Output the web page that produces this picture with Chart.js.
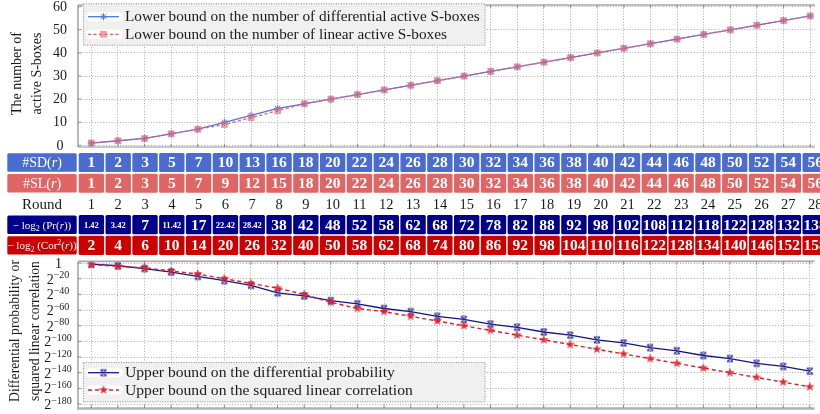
<!DOCTYPE html>
<html><head><meta charset="utf-8">
<script src="https://cdn.jsdelivr.net/npm/chart.js@4.4.1/dist/chart.umd.min.js"></script>
<style>
html,body{margin:0;padding:0;background:#fff;overflow:hidden;width:820px;height:414px;position:relative}
canvas{position:absolute;left:0;display:block}
</style></head><body>
<canvas id="cTop" width="820" height="152" style="top:0"></canvas>
<canvas id="cTbl" width="820" height="108" style="top:150px"></canvas>
<canvas id="cBot" width="820" height="158" style="top:256px"></canvas>
<script>
// ---------- data ----------
const rounds      = [1,2,3,4,5,6,7,8,9,10,11,12,13,14,15,16,17,18,19,20,21,22,23,24,25,26,27,28];
const activeSD    = [1,2,3,5,7,10,13,16,18,20,22,24,26,28,30,32,34,36,38,40,42,44,46,48,50,52,54,56];
const activeSL    = [1,2,3,5,7,9,12,15,18,20,22,24,26,28,30,32,34,36,38,40,42,44,46,48,50,52,54,56];
const negLog2Pr   = [1.42,3.42,7,11.42,17,22.42,28.42,38,42,48,52,58,62,68,72,78,82,88,92,98,102,108,112,118,122,128,132,138];
const negLog2Cor  = [2,4,6,10,14,20,26,32,40,50,58,62,68,74,80,86,92,98,104,110,116,122,128,134,140,146,152,158];
const topTicks    = [0,10,20,30,40,50,60];
const botTickExps = [0,-20,-40,-60,-80,-100,-120,-140,-160,-180];
const labelSD  = 'Lower bound on the number of differential active S-boxes';
const labelSL  = 'Lower bound on the number of linear active S-boxes';
const labelPr  = 'Upper bound on the differential probability';
const labelCor = 'Upper bound on the squared linear correlation';

// ---------- style helpers ----------
const SERIF = '"Liberation Serif","DejaVu Serif",serif';
const font = (s, w='normal', st='normal') => `${st} ${w} ${s}px ${SERIF}`;
const C = { sd:'#4a6bd0', sl:'#e06666', pr:'#00008b', cor:'#cc0000',
            topSD:'#5274e0', topSL:'#e2606c', botPr:'#14148a', botCor:'#e01e28',
            grid:'#a9a9a9', frame:'#a8a8a8' };

function line(ctx,x1,y1,x2,y2){ctx.beginPath();ctx.moveTo(x1,y1);ctx.lineTo(x2,y2);ctx.stroke();}
function fitSize(ctx,text,target,w='normal'){ctx.font=font(100,w);return 100*target/ctx.measureText(text).width;}
function drawRich(ctx,parts,cx,base,color){
  let w=0; parts.forEach(p=>{ctx.font=p.f;p.w=ctx.measureText(p.t).width;w+=p.w;});
  let x=cx-w/2; ctx.fillStyle=color; ctx.textBaseline='alphabetic'; ctx.textAlign='left';
  parts.forEach(p=>{ctx.font=p.f;ctx.fillText(p.t,x,base+(p.dy||0));x+=p.w;});
}
function markerCanvas(size,draw){const c=document.createElement('canvas');c.width=c.height=size;draw(c.getContext('2d'),size/2);return c;}
const starImg = markerCanvas(12,(g,m)=>{g.beginPath();for(let i=0;i<10;i++){const a=-Math.PI/2+i*Math.PI/5,r=i%2?2.1:5;g.lineTo(m+r*Math.cos(a),m+r*Math.sin(a));}g.closePath();g.fillStyle='rgba(226,30,40,0.85)';g.fill();});
const xImg = markerCanvas(10,(g,m)=>{g.strokeStyle='#2a2a9a';g.lineWidth=1.1;g.beginPath();
  g.moveTo(m-3,m-3);g.lineTo(m+3,m+3);g.moveTo(m+3,m-3);g.lineTo(m-3,m+3);
  g.moveTo(m-3,m-3);g.lineTo(m+3,m-3);g.moveTo(m-3,m+3);g.lineTo(m+3,m+3);g.stroke();});

function drawMarker(ctx,ds,cx,cy){
  const st=ds.pointStyle;
  if(st instanceof HTMLCanvasElement){ctx.drawImage(st,cx-st.width/2,cy-st.height/2);return;}
  if(st==='rect'){const s=Math.SQRT1_2*ds.pointRadius;ctx.fillStyle=ds.pointBackgroundColor;ctx.fillRect(cx-s,cy-s,2*s,2*s);return;}
  if(st==='star'){const r=ds.pointRadius;ctx.strokeStyle=ds.pointBorderColor;ctx.lineWidth=ds.pointBorderWidth||1;ctx.setLineDash([]);
    line(ctx,cx-r,cy,cx+r,cy);line(ctx,cx,cy-r,cx,cy+r);const d=r*Math.SQRT1_2;line(ctx,cx-d,cy-d,cx+d,cy+d);line(ctx,cx-d,cy+d,cx+d,cy-d);}
}
function drawLegend(ctx,box,rows,fs){
  ctx.save();
  ctx.fillStyle='#f0f0f0';ctx.fillRect(box.x,box.y,box.w,box.h);
  ctx.strokeStyle='#7a7a7a';ctx.lineWidth=0.8;ctx.setLineDash([1,1.5]);ctx.strokeRect(box.x+0.5,box.y+0.5,box.w-1,box.h-1);
  rows.forEach(({ds,y})=>{
    ctx.setLineDash([]);ctx.fillStyle='#ffffff';
    ctx.beginPath();ctx.roundRect(box.x+3,y-4.5,37,9,4.5);ctx.fill();
    ctx.strokeStyle=ds.borderColor;ctx.lineWidth=ds.borderWidth;ctx.setLineDash(ds.borderDash||[]);
    line(ctx,box.x+5,y,box.x+36,y);ctx.setLineDash([]);
    drawMarker(ctx,ds,box.x+20.5,y);
    ctx.fillStyle='#1a1a1a';ctx.font=font(fs);ctx.textBaseline='middle';ctx.textAlign='left';
    ctx.fillText(ds.label,box.x+42,y+0.5);
  });
  ctx.restore();
}
function drawYTitle(ctx,lines,xs,cy,fs){
  ctx.save();ctx.fillStyle='#1a1a1a';ctx.font=font(fs);ctx.textAlign='center';ctx.textBaseline='middle';
  lines.forEach((t,i)=>{ctx.save();ctx.translate(xs[i],cy);ctx.rotate(-Math.PI/2);ctx.fillText(t,0,0);ctx.restore();});
  ctx.restore();
}
const gridOpts = {color:C.grid,lineWidth:1,drawTicks:false};
const borderOpts = {display:false,dash:[1,1.8]};
const xScale = extra => Object.assign({type:'linear',min:0.5,max:28.18,offset:false,
  afterFit:s=>{s.height=0;},ticks:{display:false},
  afterBuildTicks:s=>{s.ticks=rounds.map(v=>({value:v}));},
  grid:gridOpts,border:borderOpts},extra||{});
const commonPlugins = {legend:{display:false},tooltip:{enabled:false}};

// ---------- top chart ----------
new Chart(document.getElementById('cTop'),{
  type:'line',
  data:{datasets:[
    {label:labelSD,data:rounds.map((r,i)=>({x:r,y:activeSD[i]})),borderColor:C.topSD,borderWidth:1.3,
     pointStyle:'star',pointRadius:3.6,pointBorderColor:C.topSD,pointBorderWidth:1,pointBackgroundColor:C.topSD,order:1},
    {label:labelSL,data:rounds.map((r,i)=>({x:r,y:activeSL[i]})),borderColor:C.topSL,borderWidth:1.3,borderDash:[3,2.5],
     pointStyle:'rect',pointRadius:4.8,pointBackgroundColor:'rgba(226,104,116,0.62)',pointBorderWidth:0,pointBorderColor:'rgba(0,0,0,0)',order:0}
  ]},
  options:{responsive:false,animation:false,layout:{padding:{top:1.5,bottom:2,left:0,right:0}},
    plugins:commonPlugins,
    scales:{x:xScale(),
      y:{type:'linear',min:-0.7,max:60.74,afterFit:s=>{s.width=78;},ticks:{display:false},
         afterBuildTicks:s=>{s.ticks=topTicks.map(v=>({value:v}));},grid:gridOpts,border:borderOpts}}},
  plugins:[{id:'topDecor',afterDraw(chart){
    const {ctx,chartArea:a,scales:{x,y}}=chart; ctx.save(); ctx.setLineDash([]);
    ctx.strokeStyle=C.frame;ctx.lineWidth=1.6;line(ctx,a.left,a.top,a.right,a.top);line(ctx,a.left,a.top,a.left,a.bottom);
    ctx.strokeStyle='#909090';ctx.lineWidth=1;line(ctx,a.left,a.bottom,a.right,a.bottom);
    ctx.strokeStyle='#7a7a7a';ctx.lineWidth=0.8;
    rounds.forEach(r=>{const p=x.getPixelForValue(r);line(ctx,p,a.bottom,p,a.bottom-3);line(ctx,p,a.top,p,a.top+3);});
    topTicks.forEach(v=>{const p=y.getPixelForValue(v);line(ctx,a.left,p,a.left+3,p);});
    ctx.fillStyle='#1a1a1a';ctx.font=font(14);ctx.textAlign='center';ctx.textBaseline='middle';
    topTicks.forEach(v=>ctx.fillText(String(v),60,y.getPixelForValue(v)+0.5));
    const tfs=fitSize(ctx,'The number of',83);
    drawYTitle(ctx,['The number of','active S-boxes'],[17,37],73.5,tfs);
    const lfs=fitSize(ctx,labelSD,355);
    const ds=chart.data.datasets;
    drawLegend(ctx,{x:83,y:3.3,w:402.5,h:42.4},[{ds:ds[0],y:16.7},{ds:ds[1],y:34.3}],lfs);
    ctx.restore();
  }}]
});

// ---------- table ----------
const rowDefs = [
  {vals:activeSD,color:C.sd,row:0},
  {vals:activeSL,color:C.sl,row:1},
  {vals:negLog2Pr,color:C.pr,row:3},
  {vals:negLog2Cor,color:C.cor,row:4}
];
const rowLabels = [
  {row:0,color:C.sd,parts:[{t:'#SD(',f:font(14)},{t:'r',f:font(14,'normal','italic')},{t:')',f:font(14)}]},
  {row:1,color:C.sl,parts:[{t:'#SL(',f:font(14)},{t:'r',f:font(14,'normal','italic')},{t:')',f:font(14)}]},
  {row:3,color:C.pr,parts:[{t:'− log',f:font(11)},{t:'2',f:font(8),dy:2.5},{t:' (Pr(',f:font(11)},{t:'r',f:font(11,'normal','italic')},{t:'))',f:font(11)}]},
  {row:4,color:C.cor,parts:[{t:'− log',f:font(11)},{t:'2',f:font(8),dy:2.5},{t:' (Cor',f:font(11)},{t:'2',f:font(8),dy:-4},{t:'(',f:font(11)},{t:'r',f:font(11,'normal','italic')},{t:'))',f:font(11)}]}
];
new Chart(document.getElementById('cTbl'),{
  type:'bar',
  data:{datasets:rowDefs.map(d=>({label:'row'+d.row,vals:d.vals,
    data:rounds.map(r=>({x:r,y:[d.row-0.445,d.row+0.445]})),
    backgroundColor:d.color,borderWidth:0,borderRadius:1.5,barThickness:24.7,grouped:false,borderSkipped:false}))},
  options:{responsive:false,animation:false,layout:{padding:0},plugins:commonPlugins,
    scales:{x:xScale({grid:{display:false}}),
      y:{type:'linear',min:-0.603,max:4.609,reverse:true,afterFit:s=>{s.width=78;},ticks:{display:false},grid:{display:false},border:{display:false}}}},
  plugins:[{id:'cells',afterDatasetsDraw(chart){
    const {ctx,scales:{x,y}}=chart; ctx.save();
    chart.data.datasets.forEach((ds,di)=>{
      const meta=chart.getDatasetMeta(di);
      meta.data.forEach((el,i)=>{
        const v=ds.vals[i]; const t=String(v); const cy=(el.y+el.base)/2;
        let fs=Number.isInteger(v)?15.5:8.5;
        ctx.font=font(fs,'bold'); const w=ctx.measureText(t).width;
        if(w>24) {fs*=24/w;}
        ctx.font=font(fs,'bold');ctx.fillStyle='#ffffff';ctx.textAlign='center';ctx.textBaseline='middle';
        ctx.fillText(t,el.x,cy+1);
      });
    });
    // row label boxes
    rowLabels.forEach(l=>{
      const top=y.getPixelForValue(l.row-0.445), bot=y.getPixelForValue(l.row+0.445);
      ctx.fillStyle=l.color;ctx.beginPath();ctx.roundRect(7.3,top,69.4,bot-top,1.5);ctx.fill();
      const cy=(top+bot)/2;
      drawRich(ctx,l.parts,42,cy+(l.row<2?5:4),'#ffffff');
    });
    // Round row
    const ry=y.getPixelForValue(2);
    ctx.fillStyle='#1a1a1a';ctx.textAlign='center';ctx.textBaseline='middle';
    ctx.font=font(15);ctx.fillText('Round',42,ry+1);
    ctx.font=font(14.5);
    rounds.forEach(r=>ctx.fillText(String(r),x.getPixelForValue(r),ry+1));
    ctx.restore();
  }}]
});

// ---------- bottom chart ----------
new Chart(document.getElementById('cBot'),{
  type:'line',
  data:{datasets:[
    {label:labelPr,data:rounds.map((r,i)=>({x:r,y:-negLog2Pr[i]})),borderColor:C.botPr,borderWidth:1.3,
     pointStyle:xImg,pointRadius:4,order:1},
    {label:labelCor,data:rounds.map((r,i)=>({x:r,y:-negLog2Cor[i]})),borderColor:C.botCor,borderWidth:1.4,borderDash:[4,3],
     pointStyle:starImg,pointRadius:4,order:0}
  ]},
  options:{responsive:false,animation:false,layout:{padding:{top:4,bottom:6,left:0,right:0}},
    plugins:commonPlugins,
    scales:{x:xScale(),
      y:{type:'linear',min:-185.06,max:2.15,afterFit:s=>{s.width=78;},ticks:{display:false},
         afterBuildTicks:s=>{s.ticks=botTickExps.map(v=>({value:v}));},grid:gridOpts,border:borderOpts}}},
  plugins:[{id:'botDecor',afterDraw(chart){
    const {ctx,chartArea:a,scales:{x,y}}=chart; ctx.save(); ctx.setLineDash([]);
    ctx.strokeStyle=C.frame;ctx.lineWidth=1.6;line(ctx,a.left,a.top,a.right,a.top);line(ctx,a.left,a.top,a.left,a.bottom);
    ctx.strokeStyle='#b0b0b0';ctx.lineWidth=2.6;line(ctx,a.left-1,a.bottom+0.5,a.right,a.bottom+0.5);
    ctx.strokeStyle='#7a7a7a';ctx.lineWidth=0.8;
    rounds.forEach(r=>{const p=x.getPixelForValue(r);line(ctx,p,a.top,p,a.top+3);line(ctx,p,a.bottom,p,a.bottom-3);});
    botTickExps.forEach(v=>{const p=y.getPixelForValue(v);line(ctx,a.left,p,a.left+3,p);});
    ctx.fillStyle='#1a1a1a';ctx.textBaseline='alphabetic';
    botTickExps.forEach(v=>{
      const p=y.getPixelForValue(v);
      if(v===0){ctx.font=font(14);ctx.textAlign='center';ctx.fillText('1',58.5,p+5);return;}
      drawRich(ctx,[{t:'2',f:font(14)},{t:'−'+String(-v),f:font(10),dy:-5.5}],58,p+5,'#1a1a1a');
    });
    const tfs=fitSize(ctx,'Differential probability or',142);
    drawYTitle(ctx,['Differential probability or','squared linear correlation'],[15,35],75,tfs);
    const lfs=fitSize(ctx,labelCor,288);
    const ds=chart.data.datasets;
    drawLegend(ctx,{x:83,y:106,w:402.5,h:40.3},[{ds:ds[0],y:116.7},{ds:ds[1],y:134}],lfs);
    ctx.restore();
  }}]
});
</script>
</body></html>
